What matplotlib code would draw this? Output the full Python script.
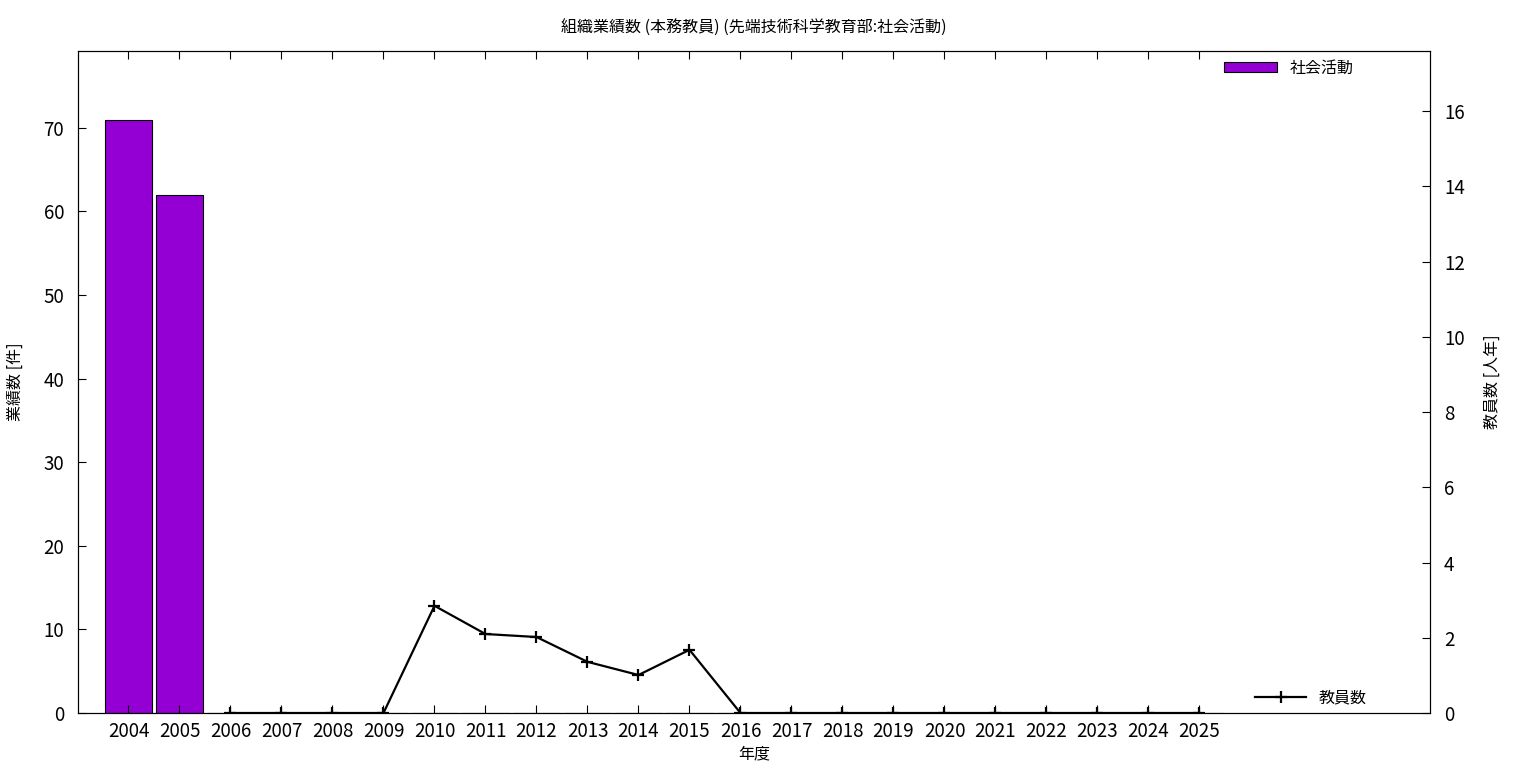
import numpy as np
import matplotlib
matplotlib.use('Agg')
from matplotlib import pyplot as plt

plt.rcParams['font.family'] = ['Noto Sans CJK JP', 'DejaVu Sans']

# datos
anios = [str(a) for a in range(2004, 2026)]
actividad = [71, 62, 0, 0, 0, 0, 0, 0, 0, 0, 0, 0, 0, 0, 0, 0, 0, 0, 0, 0, 0, 0]
anios_prof = anios[2:]
profesores = [0, 0, 0, 0, 2.85, 2.10, 2.02, 1.36, 1.01, 1.68,
              0, 0, 0, 0, 0, 0, 0, 0, 0, 0]

titulo = '組織業績数 (本務教員) (先端技術科学教育部:社会活動)'

fig = plt.figure(figsize=(15.36, 7.68), dpi=100)
ax = fig.add_axes([78/1536, 1-713/768, (1430-78)/1536, (713-51)/768])
ax2 = ax.twinx()

x = np.arange(len(anios))
barras = ax.bar(x, actividad, width=0.91, color='#9400D3', edgecolor='black', linewidth=0.8, label='社会活動')

xp = np.arange(2, 2 + len(anios_prof))
linea, = ax2.plot(xp, profesores, color='black', linewidth=1.6, marker='+', markersize=9,
                  markeredgewidth=1.6, label='教員数')

ax.set_xlim(-0.99, 25.52)
ax.set_ylim(0, 79.2)
ax2.set_ylim(0, 17.6)
ax.set_xticks(x)
ax.set_xticklabels(anios)
ax.set_yticks(range(0, 80, 10))
ax2.set_yticks(range(0, 17, 2))

ax.tick_params(axis='x', direction='in', top=True, length=6, labelsize=13.5, pad=6)
ax.tick_params(axis='y', direction='in', length=6, labelsize=13.5, pad=10)
ax2.tick_params(axis='y', direction='in', length=6, labelsize=13.5, pad=10)

ax.set_xlabel('年度', fontsize=11.5, labelpad=2)
ax.set_ylabel('業績数 [件]', fontsize=11.5, labelpad=14)
ax2.set_ylabel('教員数 [人年]', fontsize=11.5, rotation=90, labelpad=14)
ax.set_title(titulo, fontsize=11.5, pad=13)

l1 = ax.legend(handles=[barras], loc='upper right', bbox_to_anchor=(0.954, 1.009), frameon=False,
               fontsize=11.5, handlelength=3.3, handleheight=0.6)
ax2.legend(handles=[linea], loc='lower right', bbox_to_anchor=(0.964, -0.012), frameon=False,
           fontsize=11.5, handlelength=3.2)

plt.savefig('out.png', dpi=100)
